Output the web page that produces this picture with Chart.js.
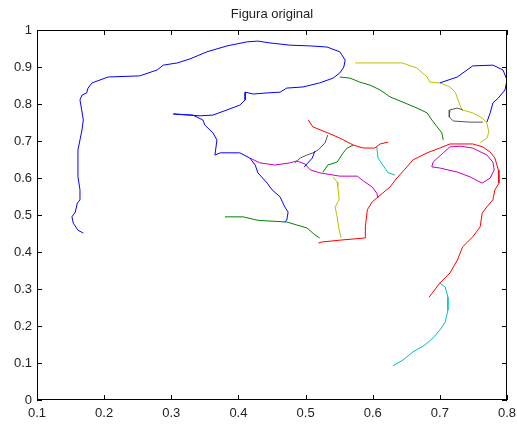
<!DOCTYPE html>
<html>
<head>
<meta charset="utf-8">
<script src="https://cdn.jsdelivr.net/npm/chart.js@4/dist/chart.umd.min.js"></script>
<style>
html,body{margin:0;padding:0;background:#fff;}
#wrap{width:517px;height:424px;}
</style>
</head>
<body>
<div id="wrap"><canvas id="c" width="517" height="424"></canvas></div>
<script>
// ---- data (x, y pairs) ----
const blue1 = [[0.169,0.451],[0.161,0.459],[0.154,0.478],[0.152,0.495],[0.157,0.508],[0.160,0.532],[0.164,0.541],[0.164,0.568],[0.161,0.603],[0.161,0.676],[0.164,0.703],[0.167,0.730],[0.169,0.757],[0.164,0.811],[0.167,0.824],[0.174,0.830],[0.176,0.843],[0.182,0.857],[0.194,0.865],[0.206,0.873],[0.253,0.876],[0.279,0.892],[0.288,0.905],[0.309,0.911],[0.328,0.922],[0.353,0.941],[0.383,0.957],[0.413,0.968],[0.429,0.970],[0.447,0.965],[0.477,0.959],[0.507,0.957],[0.532,0.954],[0.551,0.941],[0.559,0.919],[0.557,0.900],[0.551,0.884],[0.541,0.870],[0.521,0.857],[0.496,0.846],[0.472,0.843],[0.462,0.832],[0.443,0.830],[0.422,0.827],[0.410,0.832],[0.410,0.811],[0.402,0.797],[0.383,0.784],[0.362,0.770],[0.343,0.768],[0.303,0.773],[0.332,0.770],[0.347,0.757],[0.350,0.743],[0.362,0.722],[0.368,0.703],[0.365,0.662],[0.373,0.668],[0.402,0.668],[0.417,0.654],[0.425,0.635],[0.429,0.614],[0.443,0.586],[0.450,0.568],[0.462,0.549],[0.469,0.522],[0.474,0.508],[0.472,0.486],[0.469,0.481]];
const blue2 = [[0.700,0.857],[0.726,0.873],[0.749,0.903],[0.779,0.905],[0.794,0.892],[0.800,0.865],[0.797,0.838],[0.787,0.816],[0.779,0.803],[0.775,0.776],[0.770,0.751]];
const blue3 = [[0.514,0.673],[0.510,0.654],[0.502,0.638],[0.498,0.630]];
const gray1 = [[0.533,0.716],[0.529,0.695],[0.519,0.676],[0.511,0.668],[0.502,0.662],[0.492,0.654],[0.484,0.641]];
const gray2 = [[0.734,0.784],[0.726,0.789],[0.715,0.784],[0.714,0.765],[0.720,0.754],[0.745,0.751],[0.764,0.751]];
const yellow1 = [[0.574,0.911],[0.644,0.911],[0.666,0.897],[0.681,0.873],[0.685,0.859],[0.700,0.857],[0.715,0.846],[0.723,0.832],[0.727,0.811],[0.733,0.784],[0.749,0.776],[0.763,0.762],[0.770,0.749],[0.773,0.724],[0.770,0.708],[0.760,0.695]];
const yellow2 = [[0.541,0.603],[0.547,0.589],[0.548,0.576],[0.550,0.541],[0.544,0.522],[0.547,0.495],[0.550,0.459],[0.553,0.438]];
const green1 = [[0.551,0.873],[0.566,0.870],[0.581,0.859],[0.596,0.851],[0.611,0.838],[0.626,0.819],[0.645,0.805],[0.666,0.789],[0.681,0.776],[0.688,0.757],[0.696,0.738],[0.703,0.722],[0.705,0.703]];
const green2 = [[0.571,0.689],[0.562,0.681],[0.556,0.668],[0.547,0.643],[0.533,0.635],[0.526,0.616]];
const green3 = [[0.380,0.495],[0.407,0.495],[0.428,0.486],[0.443,0.484],[0.472,0.481],[0.487,0.473],[0.502,0.465],[0.514,0.446],[0.521,0.438]];
const red1 = [[0.504,0.757],[0.511,0.738],[0.533,0.722],[0.551,0.708],[0.571,0.689],[0.586,0.681],[0.603,0.681],[0.611,0.692],[0.623,0.697]];
const red2 = [[0.519,0.424],[0.524,0.427],[0.551,0.432],[0.589,0.438],[0.589,0.468],[0.592,0.514],[0.599,0.535],[0.608,0.549],[0.626,0.576],[0.636,0.600],[0.651,0.630],[0.660,0.649],[0.681,0.668],[0.700,0.681],[0.715,0.692],[0.749,0.692],[0.764,0.684],[0.775,0.670],[0.782,0.654],[0.787,0.622],[0.788,0.586],[0.782,0.568],[0.779,0.541],[0.770,0.522],[0.763,0.505],[0.760,0.468],[0.749,0.441],[0.734,0.414],[0.726,0.378],[0.715,0.343],[0.700,0.316],[0.690,0.292],[0.684,0.278]];
const cyan1 = [[0.606,0.684],[0.608,0.654],[0.615,0.635],[0.623,0.614],[0.633,0.608]];
const cyan2 = [[0.700,0.316],[0.708,0.305],[0.712,0.278],[0.712,0.243],[0.708,0.211],[0.700,0.189],[0.690,0.168],[0.678,0.149],[0.660,0.130],[0.645,0.108],[0.630,0.092]];
const magenta1 = [[0.417,0.654],[0.432,0.641],[0.454,0.635],[0.477,0.641],[0.487,0.646],[0.499,0.638],[0.507,0.622],[0.521,0.614],[0.541,0.608],[0.551,0.605],[0.577,0.605],[0.586,0.592],[0.599,0.576],[0.606,0.559],[0.608,0.546]];
const magenta2 = [[0.715,0.684],[0.705,0.668],[0.690,0.643],[0.688,0.630],[0.700,0.627],[0.726,0.616],[0.745,0.603],[0.763,0.586],[0.775,0.600],[0.781,0.622],[0.779,0.643],[0.770,0.662],[0.749,0.681],[0.730,0.686],[0.715,0.684]];

const xTicks = [0.1,0.2,0.3,0.4,0.5,0.6,0.7,0.8];
const yTicks = [0,0.1,0.2,0.3,0.4,0.5,0.6,0.7,0.8,0.9,1];

const series = [
  {d: blue1, c: '#0000ff'}, {d: blue2, c: '#0000ff'}, {d: blue3, c: '#0000ff'},
  {d: gray1, c: '#555555'}, {d: gray2, c: '#555555'},
  {d: yellow1, c: '#bfbf00'}, {d: yellow2, c: '#bfbf00'},
  {d: green1, c: '#008000'}, {d: green2, c: '#008000'}, {d: green3, c: '#008000'},
  {d: red1, c: '#ff0000'}, {d: red2, c: '#ff0000'},
  {d: cyan1, c: '#00bfbf'}, {d: cyan2, c: '#00bfbf'},
  {d: magenta1, c: '#bf00bf'}, {d: magenta2, c: '#bf00bf'}
];

const datasets = series.map(s => ({
  data: s.d.map(p => ({x: p[0], y: p[1]})),
  borderColor: s.c,
  backgroundColor: s.c,
  borderWidth: 1,
  pointRadius: 0,
  showLine: true,
  tension: 0,
  fill: false
}));

const boxPlugin = {
  id: 'box',
  afterDraw(chart) {
    const {ctx, chartArea: a, scales} = chart;
    ctx.save();
    ctx.strokeStyle = '#000';
    ctx.lineWidth = 1;
    ctx.strokeRect(Math.round(a.left) + 0.5, Math.round(a.top) + 0.5, Math.round(a.right - a.left) - 1, Math.round(a.bottom - a.top) - 1);
    const L = 5;
    ctx.beginPath();
    xTicks.forEach(v => {
      const px = Math.round(scales.x.getPixelForValue(v)) + 0.5;
      ctx.moveTo(px, a.bottom); ctx.lineTo(px, a.bottom - L);
      ctx.moveTo(px, a.top); ctx.lineTo(px, a.top + L);
    });
    yTicks.forEach(v => {
      const py = Math.round(scales.y.getPixelForValue(v)) + 0.5;
      ctx.moveTo(a.left, py); ctx.lineTo(a.left + L, py);
      ctx.moveTo(a.right, py); ctx.lineTo(a.right - L, py);
    });
    ctx.stroke();
    ctx.restore();
  }
};

const fmt = v => String(Number(v.toFixed(1)));
const FONT = 'Liberation Sans, Arial, sans-serif';

new Chart(document.getElementById('c'), {
  type: 'scatter',
  data: {datasets},
  options: {
    responsive: false,
    animation: false,
    layout: {padding: {left: 0, right: 10, top: 0, bottom: 0}},
    plugins: {
      legend: {display: false},
      tooltip: {enabled: false},
      title: {
        display: true,
        fullSize: false,
        text: 'Figura original',
        color: '#222',
        font: {family: FONT, size: 13, weight: 'normal', lineHeight: 1.2},
        padding: {top: 7, bottom: 7.4}
      }
    },
    scales: {
      x: {
        type: 'linear', min: 0.1, max: 0.8,
        afterBuildTicks: s => { s.ticks = xTicks.map(v => ({value: v})); },
        afterFit: s => { s.height = 24; s.paddingLeft = 0; s.paddingRight = 0; },
        grid: {display: false, drawTicks: false},
        border: {display: false},
        ticks: {padding: 6, color: '#222', maxRotation: 0, autoSkip: false,
          font: {family: FONT, size: 13},
          callback: v => fmt(v)}
      },
      y: {
        type: 'linear', min: 0, max: 1,
        afterBuildTicks: s => { s.ticks = yTicks.map(v => ({value: v})); },
        afterFit: s => { s.width = 37; s.paddingTop = 0; s.paddingBottom = 0; },
        grid: {display: false, drawTicks: false},
        border: {display: false},
        ticks: {padding: 5, color: '#222', autoSkip: false,
          font: {family: FONT, size: 13},
          callback: v => fmt(v)}
      }
    }
  },
  plugins: [boxPlugin]
});
</script>
</body>
</html>
